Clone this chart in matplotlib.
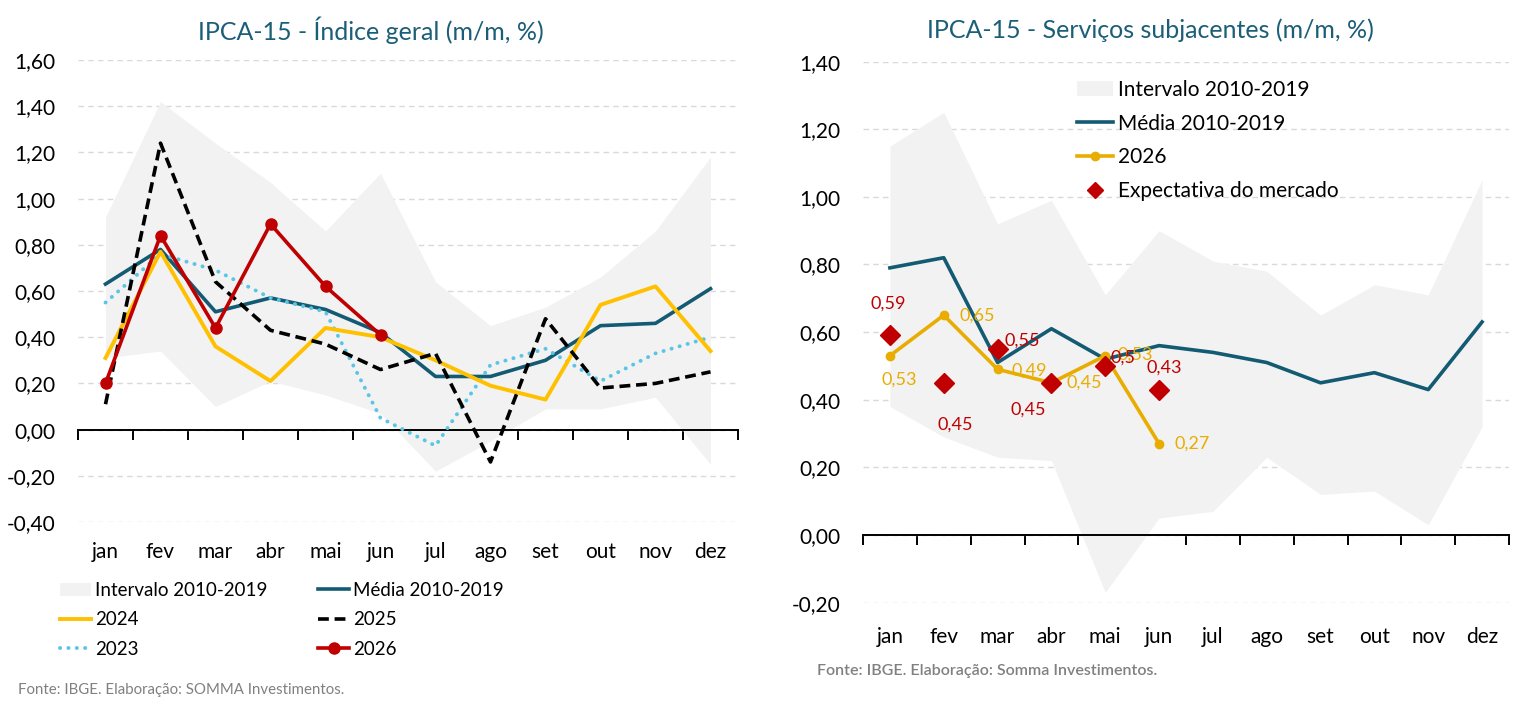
import numpy as np
import matplotlib.pyplot as plt
from matplotlib.patches import Patch
from matplotlib.lines import Line2D
from matplotlib.ticker import FuncFormatter

plt.rcParams['font.family'] = ['Lato', 'DejaVu Sans']

# ---- data ----
months = ['jan', 'fev', 'mar', 'abr', 'mai', 'jun', 'jul', 'ago', 'set', 'out', 'nov', 'dez']

# IPCA-15 indice geral
geral_hi   = [0.92, 1.42, 1.24, 1.07, 0.86, 1.11, 0.64, 0.45, 0.53, 0.66, 0.86, 1.18]
geral_lo   = [0.31, 0.34, 0.10, 0.21, 0.15, 0.07, -0.18, -0.05, 0.09, 0.09, 0.14, -0.15]
geral_mean = [0.63, 0.78, 0.51, 0.57, 0.52, 0.42, 0.23, 0.23, 0.30, 0.45, 0.46, 0.61]
geral_2023 = [0.55, 0.76, 0.69, 0.57, 0.51, 0.05, -0.07, 0.28, 0.35, 0.21, 0.33, 0.40]
geral_2024 = [0.31, 0.77, 0.36, 0.21, 0.44, 0.40, 0.30, 0.19, 0.13, 0.54, 0.62, 0.34]
geral_2025 = [0.11, 1.24, 0.64, 0.43, 0.37, 0.26, 0.33, -0.14, 0.48, 0.18, 0.20, 0.25]
geral_2026 = [0.20, 0.84, 0.44, 0.89, 0.62, 0.41]

# servicos subjacentes
serv_hi   = [1.15, 1.25, 0.92, 0.99, 0.71, 0.90, 0.81, 0.78, 0.65, 0.74, 0.71, 1.05]
serv_lo   = [0.38, 0.29, 0.23, 0.22, -0.17, 0.05, 0.07, 0.23, 0.12, 0.13, 0.03, 0.32]
serv_mean = [0.79, 0.82, 0.51, 0.61, 0.52, 0.56, 0.54, 0.51, 0.45, 0.48, 0.43, 0.63]
serv_2026 = [0.53, 0.65, 0.49, 0.45, 0.53, 0.27]
serv_exp  = [0.59, 0.45, 0.55, 0.45, 0.50, 0.43]
serv_exp_txt = ['0,59', '0,45', '0,55', '0,45', '0,5', '0,43']

# ---- styles ----
BAND = '#F2F2F2'
TEAL = '#135A73'
TITLE = '#1B5E78'
RED = '#C00000'
YEL = '#FFC000'
YEL2 = '#E8AD00'
LBLUE = '#5BC5E5'
GRID = '#D9D9D9'

W, H = 1537, 702
fig = plt.figure(figsize=(W / 100, H / 100), dpi=100)

def fmt(v, pos=None):
    return f'{v:.2f}'.replace('.', ',')

def style_axes(ax, ymin, ymax, label_pad):
    ax.set_xlim(-0.5, 11.5)
    ax.set_ylim(ymin, ymax)
    ax.set_yticks(np.round(np.arange(ymin, ymax + 0.01, 0.2), 2))
    ax.yaxis.set_major_formatter(FuncFormatter(fmt))
    ax.tick_params(axis='y', length=0, pad=16, labelsize=15)
    ax.grid(axis='y', color=GRID, linestyle=(0, (4, 3)), linewidth=1.0)
    ax.set_axisbelow(True)
    for s in ['left', 'right', 'top']:
        ax.spines[s].set_visible(False)
    ax.spines['bottom'].set_position(('data', 0))
    ax.spines['bottom'].set_linewidth(1.4)
    ax.set_xticks(np.arange(-0.5, 12, 1))
    ax.set_xticks(np.arange(12), labels=months, minor=True)
    ax.tick_params(axis='x', which='major', length=7, width=1.4,
                   direction='out', labelbottom=False)
    ax.tick_params(axis='x', which='minor', length=0, pad=label_pad, labelsize=15)

# ---------------- left chart ----------------
ax1 = fig.add_axes([78 / W, 1 - 522 / H, 660 / W, 462 / H])
x = np.arange(12)
x6 = np.arange(len(geral_2026))
ax1.fill_between(x, geral_lo, geral_hi, color=BAND, linewidth=0, zorder=1)
ax1.plot(x, geral_mean, color=TEAL, lw=2.6, zorder=3)
ax1.plot(x, geral_2023, color=LBLUE, lw=2.8, linestyle=(0, (0.05, 2.1)),
         dash_capstyle='round', zorder=3)
ax1.plot(x, geral_2024, color=YEL, lw=2.8, zorder=3)
ax1.plot(x, geral_2025, color='black', lw=2.6, linestyle=(0, (3, 1.6)), zorder=4)
ax1.plot(x6, geral_2026, color=RED, lw=2.6, marker='o', markersize=8, zorder=5)
style_axes(ax1, -0.4, 1.6, 81)

fig.text(371 / W, 1 - 30 / H, 'IPCA-15 - Índice geral (m/m, %)', ha='center', va='center',
         fontsize=18, color=TITLE)

h_left = [
    Patch(facecolor=BAND, edgecolor='none'),
    Line2D([], [], color=YEL, lw=2.8),
    Line2D([], [], color=LBLUE, lw=2.8, linestyle=(0, (0.05, 2.1)), dash_capstyle='round'),
    Line2D([], [], color=TEAL, lw=2.6),
    Line2D([], [], color='black', lw=2.6, linestyle=(0, (3, 1.6))),
    Line2D([], [], color=RED, lw=2.6, marker='o', markersize=8),
]
l_left = ['Intervalo 2010-2019', '2024', '2023', 'Média 2010-2019', '2025', '2026']
fig.legend(h_left, l_left, ncol=2, loc='upper left', bbox_to_anchor=(60 / W, 1 - 582 / H),
           frameon=False, fontsize=13.5, handlelength=1.65, handletextpad=0.22,
           columnspacing=2.7, labelspacing=0.66, borderpad=0, borderaxespad=0)

fig.text(18 / W, 1 - 690 / H, 'Fonte: IBGE. Elaboração: SOMMA Investimentos.',
         ha='left', va='center', fontsize=10.8, color='#808080')

# ---------------- right chart ----------------
ax2 = fig.add_axes([863 / W, 1 - 602.6 / H, 646 / W, 541 / H])
ax2.fill_between(x, serv_lo, serv_hi, color=BAND, linewidth=0, zorder=1)
ax2.plot(x, serv_mean, color=TEAL, lw=2.6, zorder=3)
ax2.plot(x6, serv_2026, color=YEL2, lw=2.6, marker='o', markersize=6, zorder=4)
ax2.plot(x6, serv_exp, color=RED, lw=0, marker='D', markersize=10, zorder=5)
style_axes(ax2, -0.2, 1.4, 66)

# data labels (offsets in points)
yel_off = [(7, -17, 'center'), (11, 0, 'left'), (10, -1, 'left'),
           (11, 0, 'left'), (9, 1, 'left'), (11, 0, 'left')]
for i, v in enumerate(serv_2026):
    dx, dy, ha = yel_off[i]
    ax2.annotate(fmt(v), (x6[i], v), xytext=(dx, dy), textcoords='offset points',
                 ha=ha, va='center', fontsize=13, color=YEL2, zorder=6)
red_off = [(-1, 23, 'center'), (8, -30, 'center'), (5, 6, 'left'),
           (-17, -19, 'center'), (4, 6, 'left'), (4, 16, 'center')]
for i, v in enumerate(serv_exp):
    dx, dy, ha = red_off[i]
    ax2.annotate(serv_exp_txt[i], (x6[i], v), xytext=(dx, dy), textcoords='offset points',
                 ha=ha, va='center', fontsize=13, color=RED, zorder=7)

fig.text(1150 / W, 1 - 30 / H, 'IPCA-15 - Serviços subjacentes (m/m, %)', ha='center',
         va='center', fontsize=18, color=TITLE)

h_right = [
    Patch(facecolor=BAND, edgecolor='none'),
    Line2D([], [], color=TEAL, lw=2.6),
    Line2D([], [], color=YEL2, lw=2.6, marker='o', markersize=6),
    Line2D([], [], color=RED, lw=0, marker='D', markersize=8),
]
l_right = ['Intervalo 2010-2019', 'Média 2010-2019', '2026', 'Expectativa do mercado']
ax2.legend(h_right, l_right, loc='upper left', bbox_to_anchor=((1077 - 863) / 646, 0.966),
           frameon=False, fontsize=15, handlelength=1.75, handletextpad=0.2,
           labelspacing=0.66, borderpad=0, borderaxespad=0)

fig.text(817 / W, 1 - 671 / H, 'Fonte: IBGE. Elaboração: Somma Investimentos.',
         ha='left', va='center', fontsize=11.5, color='#808080', fontweight='semibold')

fig.savefig('out.png', dpi=100)
